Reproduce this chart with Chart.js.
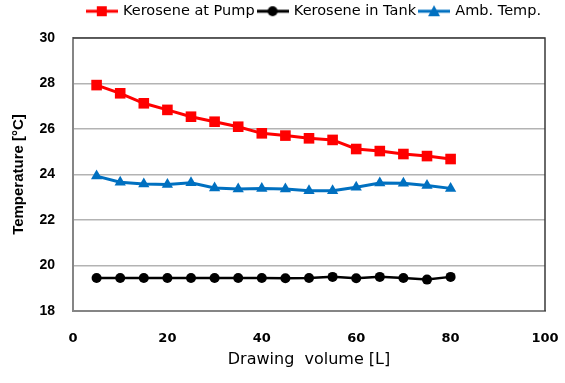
<!DOCTYPE html>
<html>
<head>
<meta charset="utf-8">
<script src="https://cdn.jsdelivr.net/npm/chart.js@4/dist/chart.umd.min.js"></script>
<style>
  html, body { margin: 0; padding: 0; background: #fff; }
  #wrap { width: 565px; height: 383px; }
</style>
</head>
<body>
<div id="wrap"><canvas id="chart"></canvas></div>
<script>
const volumes = [5, 10, 15, 20, 25, 30, 35, 40, 45, 50, 55, 60, 65, 70, 75, 80];
const pumpTemps = [27.93, 27.57, 27.13, 26.84, 26.54, 26.32, 26.10, 25.81, 25.71, 25.59, 25.52, 25.12, 25.03, 24.90, 24.81, 24.68];
const tankTemps = [19.45, 19.45, 19.45, 19.45, 19.45, 19.45, 19.45, 19.45, 19.44, 19.45, 19.50, 19.44, 19.50, 19.45, 19.38, 19.50];
const ambTemps = [23.93, 23.66, 23.58, 23.56, 23.64, 23.41, 23.36, 23.38, 23.36, 23.29, 23.29, 23.44, 23.63, 23.61, 23.52, 23.39];
const seriesLabels = ['Kerosene at Pump', 'Kerosene in Tank', 'Amb. Temp.'];

const AREA = { left: 73, right: 545, top: 38, bottom: 311 };

function toPoints(values) {
  return values.map((v, i) => ({ x: volumes[i], y: v }));
}

// little line + marker image for each legend entry
function legendIcon(color, style) {
  const c = document.createElement('canvas');
  c.width = 32;
  c.height = 14;
  const ctx = c.getContext('2d');
  ctx.strokeStyle = color;
  ctx.fillStyle = color;
  ctx.lineWidth = 3;
  ctx.beginPath();
  ctx.moveTo(0, 7);
  ctx.lineTo(32, 7);
  ctx.stroke();
  ctx.beginPath();
  if (style === 'rect') {
    ctx.rect(11, 2, 10, 10);
  } else if (style === 'circle') {
    ctx.arc(16, 7, 5, 0, Math.PI * 2);
  } else {
    ctx.moveTo(16, 1);
    ctx.lineTo(22, 12);
    ctx.lineTo(10, 12);
    ctx.closePath();
  }
  ctx.fill();
  return c;
}

const seriesStyles = [
  { color: '#ff0000', point: 'rect', radius: 7.5, width: 3 },
  { color: '#000000', point: 'circle', radius: 5, width: 2.5 },
  { color: '#0070c0', point: 'triangle', radius: 6.5, width: 3 },
];

const frame = {
  id: 'frame',
  afterDatasetsDraw(chart) {
    const { ctx, chartArea: a } = chart;
    ctx.save();
    ctx.strokeStyle = '#3a3a3a';
    ctx.lineWidth = 1.5;
    ctx.beginPath();
    ctx.moveTo(a.left, a.top);
    ctx.lineTo(a.right, a.top);
    ctx.lineTo(a.right, a.bottom);
    ctx.stroke();
    ctx.restore();
  },
};

const chart = new Chart(document.getElementById('chart'), {
  type: 'line',
  data: {
    datasets: [pumpTemps, tankTemps, ambTemps].map((vals, i) => ({
      label: seriesLabels[i],
      data: toPoints(vals),
      borderColor: seriesStyles[i].color,
      backgroundColor: seriesStyles[i].color,
      borderWidth: seriesStyles[i].width,
      pointStyle: seriesStyles[i].point,
      pointRadius: seriesStyles[i].radius,
      pointBorderWidth: 0,
      tension: 0,
    })),
  },
  options: {
    responsive: true,
    maintainAspectRatio: false,
    animation: false,
    layout: {
      padding: { left: 0, right: 565 - AREA.right, top: 0, bottom: 0 },
    },
    plugins: {
      legend: {
        position: 'top',
        align: 'end',
        weight: 3000,
        labels: {
          usePointStyle: true,
          pointStyleWidth: 28,
          padding: 4,
          color: '#000',
          font: { family: 'DejaVu Sans', size: 14.5 },
          generateLabels(ch) {
            return ch.data.datasets.map((ds, i) => ({
              text: ds.label,
              pointStyle: legendIcon(seriesStyles[i].color, seriesStyles[i].point),
              fillStyle: seriesStyles[i].color,
              strokeStyle: seriesStyles[i].color,
              lineWidth: 0,
              datasetIndex: i,
            }));
          },
        },
      },
      title: {
        display: true,
        text: '',
        font: { size: 1 },
        padding: { top: 0, bottom: 10 },
      },
      tooltip: { enabled: false },
    },
    scales: {
      x: {
        type: 'linear',
        min: 0,
        max: 100,
        ticks: {
          stepSize: 20,
          padding: 20,
          color: '#000',
          font: { family: 'DejaVu Sans', size: 13, weight: 'bold' },
          maxRotation: 0,
        },
        grid: { display: false, drawTicks: false },
        border: { color: '#858585', width: 2 },
        title: {
          display: true,
          text: 'Drawing  volume [L]',
          color: '#000',
          font: { family: 'DejaVu Sans', size: 16 },
          padding: { top: 2, bottom: 14 },
        },
        afterFit(scale) {
          scale.height = 383 - AREA.bottom;
          scale.paddingLeft = 0;
          scale.paddingRight = 0;
        },
      },
      y: {
        min: 18,
        max: 30,
        ticks: {
          stepSize: 2,
          padding: 18,
          color: '#000',
          font: { family: 'Liberation Sans', size: 14, weight: 'bold' },
        },
        grid: { color: '#b3b3b3', lineWidth: 1.5, drawTicks: false },
        border: { color: '#858585', width: 2 },
        title: {
          display: true,
          text: 'Temperature [°C]',
          color: '#000',
          font: { family: 'Liberation Sans', size: 15, weight: 'bold' },
          padding: { top: 10, bottom: 0 },
        },
        afterFit(scale) {
          scale.width = AREA.left;
          scale.paddingTop = 0;
          scale.paddingBottom = 0;
        },
      },
    },
  },
  plugins: [frame],
});

// nudge the spacer so the plot area top lands where it should
const dy = AREA.top - chart.chartArea.top;
if (Math.abs(dy) > 0.5) {
  chart.options.plugins.title.padding.bottom += dy;
  chart.update();
}
</script>
</body>
</html>
